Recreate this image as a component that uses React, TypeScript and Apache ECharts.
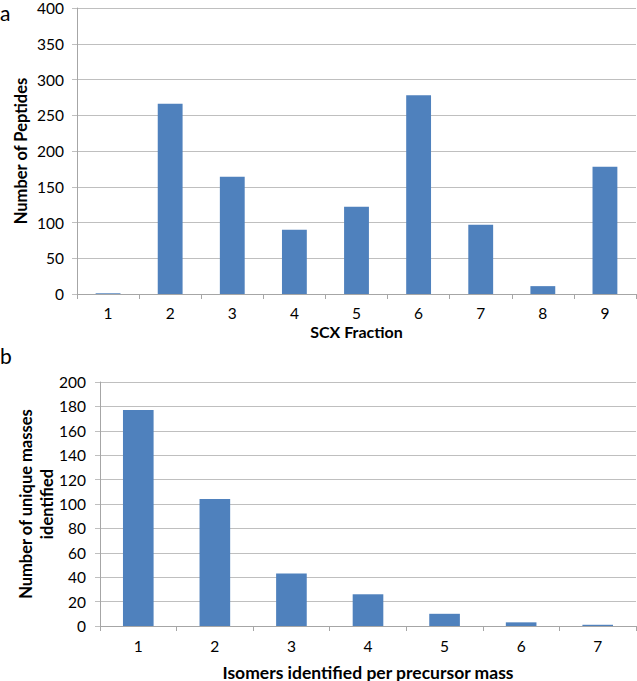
import React, { useEffect, useRef } from "react";
import * as echarts from "echarts";

const fractionCategories = ["1", "2", "3", "4", "5", "6", "7", "8", "9"];
const peptideCounts = [1, 266, 164, 90, 122, 278, 97, 11, 178];
const isomerCategories = ["1", "2", "3", "4", "5", "6", "7"];
const uniqueMassCounts = [177, 104, 43, 26, 10, 3, 1];

const FONT = "Lato, 'Open Sans', sans-serif";
const BAR = "#4f81bd";
const GRID = "#bfbfbf";
const AXIS = "#a6a6a6";

export default function App() {
  const ref = useRef<HTMLDivElement>(null);
  useEffect(() => {
    if (!ref.current) return;
    const chart = echarts.init(ref.current, undefined, { renderer: "svg" });
    const xAxisCommon = {
      type: "category" as const,
      axisLine: { lineStyle: { color: AXIS, width: 1 } },
      axisTick: { show: true, length: 5, lineStyle: { color: AXIS } },
      axisLabel: { color: "#000", fontSize: 15.5, fontFamily: FONT },
      nameLocation: "middle" as const,
      nameMoveOverlap: false,
      nameTextStyle: { color: "#000", fontSize: 16, fontWeight: "bold" as const, fontFamily: FONT },
    };
    const yAxisCommon = {
      type: "value" as const,
      min: 0,
      axisLine: { show: true, lineStyle: { color: AXIS, width: 1 } },
      axisTick: { show: true, length: 5, lineStyle: { color: GRID } },
      splitLine: { show: true, lineStyle: { color: GRID, width: 1 } },
      axisLabel: { color: "#000", fontSize: 15.5, fontFamily: FONT },
      nameLocation: "middle" as const,
      nameMoveOverlap: false,
      nameTextStyle: { color: "#000", fontSize: 16.5, fontWeight: "bold" as const, fontFamily: FONT, lineHeight: 21 },
    };
    chart.setOption({
      animation: false,
      backgroundColor: "#fff",
      grid: [
        { left: 77, top: 8, width: 559, height: 286, outerBoundsMode: "none", containLabel: false },
        { left: 100, top: 382, width: 536, height: 244, outerBoundsMode: "none", containLabel: false },
      ],
      xAxis: [
        { ...xAxisCommon, gridIndex: 0, data: fractionCategories, name: "SCX Fraction", nameGap: 29, axisLabel: { ...xAxisCommon.axisLabel, margin: 11 } },
        {
          ...xAxisCommon, gridIndex: 1, data: isomerCategories, name: "Isomers identified per precursor mass", nameGap: 37,
          nameTextStyle: { ...xAxisCommon.nameTextStyle, fontSize: 17.5 },
          axisLabel: { ...xAxisCommon.axisLabel, margin: 12 },
        },
      ],
      yAxis: [
        { ...yAxisCommon, gridIndex: 0, max: 400, interval: 50, name: "Number of Peptides", nameGap: 46, axisLabel: { ...yAxisCommon.axisLabel, margin: 13 } },
        { ...yAxisCommon, gridIndex: 1, max: 200, interval: 20, name: "Number of unique masses\nidentified", nameGap: 43, axisLabel: { ...yAxisCommon.axisLabel, margin: 14 } },
      ],
      series: [
        { type: "bar", xAxisIndex: 0, yAxisIndex: 0, data: peptideCounts, barWidth: "40%", itemStyle: { color: BAR } },
        { type: "bar", xAxisIndex: 1, yAxisIndex: 1, data: uniqueMassCounts, barWidth: "40%", itemStyle: { color: BAR } },
      ],
      graphic: [
        { type: "text", left: 0, top: 2, style: { text: "a", fontSize: 21, fontFamily: FONT, fill: "#000" } },
        { type: "text", left: 0, top: 345, style: { text: "b", fontSize: 21, fontFamily: FONT, fill: "#000" } },
      ],
    });
    return () => chart.dispose();
  }, []);
  return (
    <div
      ref={ref}
      style={{ position: "fixed", left: 0, top: 0, width: 637, height: 681, background: "#fff" }}
    />
  );
}
